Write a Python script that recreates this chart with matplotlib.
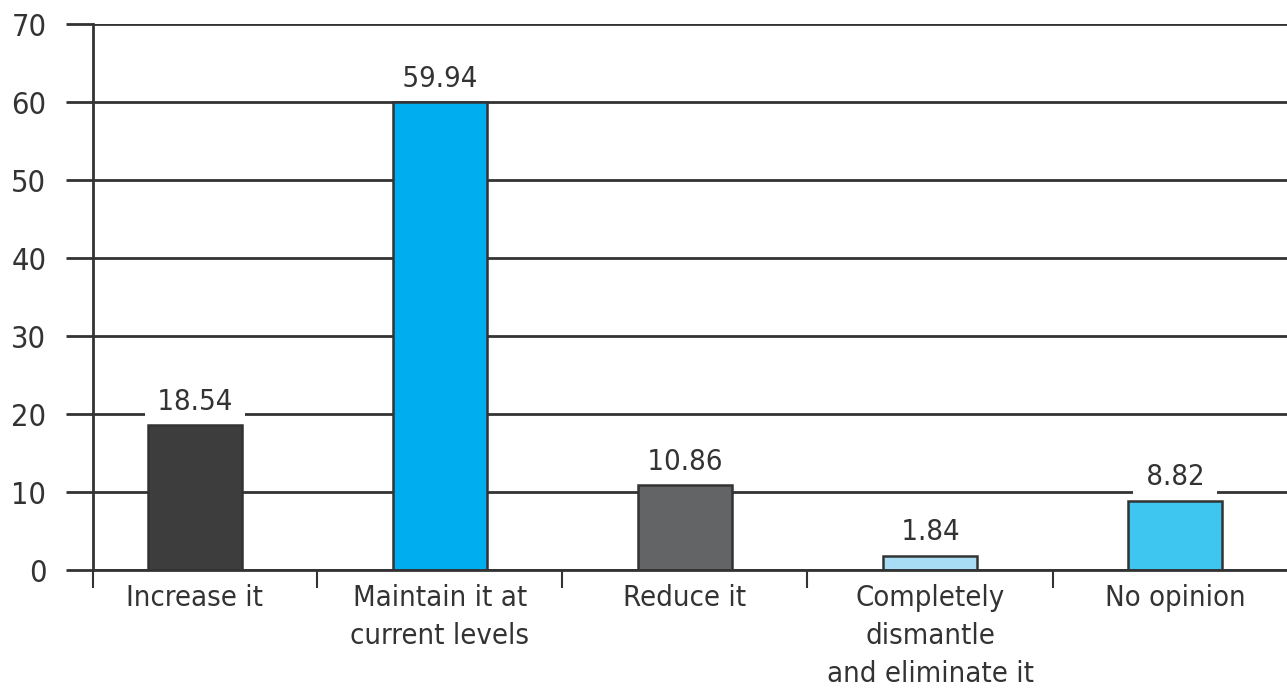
import matplotlib.pyplot as plt
from matplotlib.ticker import FixedLocator

# chart data
categories = ["Increase it", "Maintain it at\ncurrent levels", "Reduce it",
              "Completely\ndismantle\nand eliminate it", "No opinion"]
values = [18.54, 59.94, 10.86, 1.84, 8.82]
bar_colors = ["#3d3d3d", "#00aeef", "#636466", "#a8dcf5", "#3ec6f0"]
y_ticks = [0, 10, 20, 30, 40, 50, 60, 70]

plt.rcParams["font.family"] = ["DejaVu Sans"]
plt.rcParams["font.stretch"] = "condensed"
ink = "#333333"
fs = 21

fig = plt.figure(figsize=(12.87, 6.97), dpi=100)
ax = fig.add_axes([93 / 1287, 127 / 697, 1194 / 1287, 546 / 697])

x = list(range(len(values)))
ax.bar(x, values, width=0.384, color=bar_colors, edgecolor=ink,
       linewidth=1.8, zorder=2)

# value labels, white box breaks the gridline behind them
for xi, v in zip(x, values):
    ax.annotate(" %.2f " % v, (xi, v), xytext=(0, 7), textcoords="offset points",
                ha="center", va="bottom", fontsize=fs, color=ink, zorder=1.5,
                bbox=dict(boxstyle="square,pad=0.15", fc="white", ec="none"))

ax.set_xlim(-0.416, 4.457)
ax.set_ylim(0, 70)
ax.set_axisbelow(True)

ax.set_yticks(y_ticks)
ax.yaxis.grid(True, color=ink, linewidth=2)
ax.tick_params(axis="y", direction="out", length=19.5, width=2, color=ink,
               labelsize=22, labelcolor=ink, pad=14)

ax.set_xticks(x)
ax.set_xticklabels(categories, linespacing=1.45)
ax.tick_params(axis="x", which="major", length=0, labelsize=fs,
               labelcolor=ink, pad=10)
ax.xaxis.set_minor_locator(FixedLocator([-0.416, 0.5, 1.5, 2.5, 3.5]))
ax.tick_params(axis="x", which="minor", direction="out", length=13,
               width=1.5, color=ink)

for s in ["top", "right"]:
    ax.spines[s].set_visible(False)
for s in ["left", "bottom"]:
    ax.spines[s].set_color(ink)
    ax.spines[s].set_linewidth(2)

plt.savefig("out.png", dpi=100)
